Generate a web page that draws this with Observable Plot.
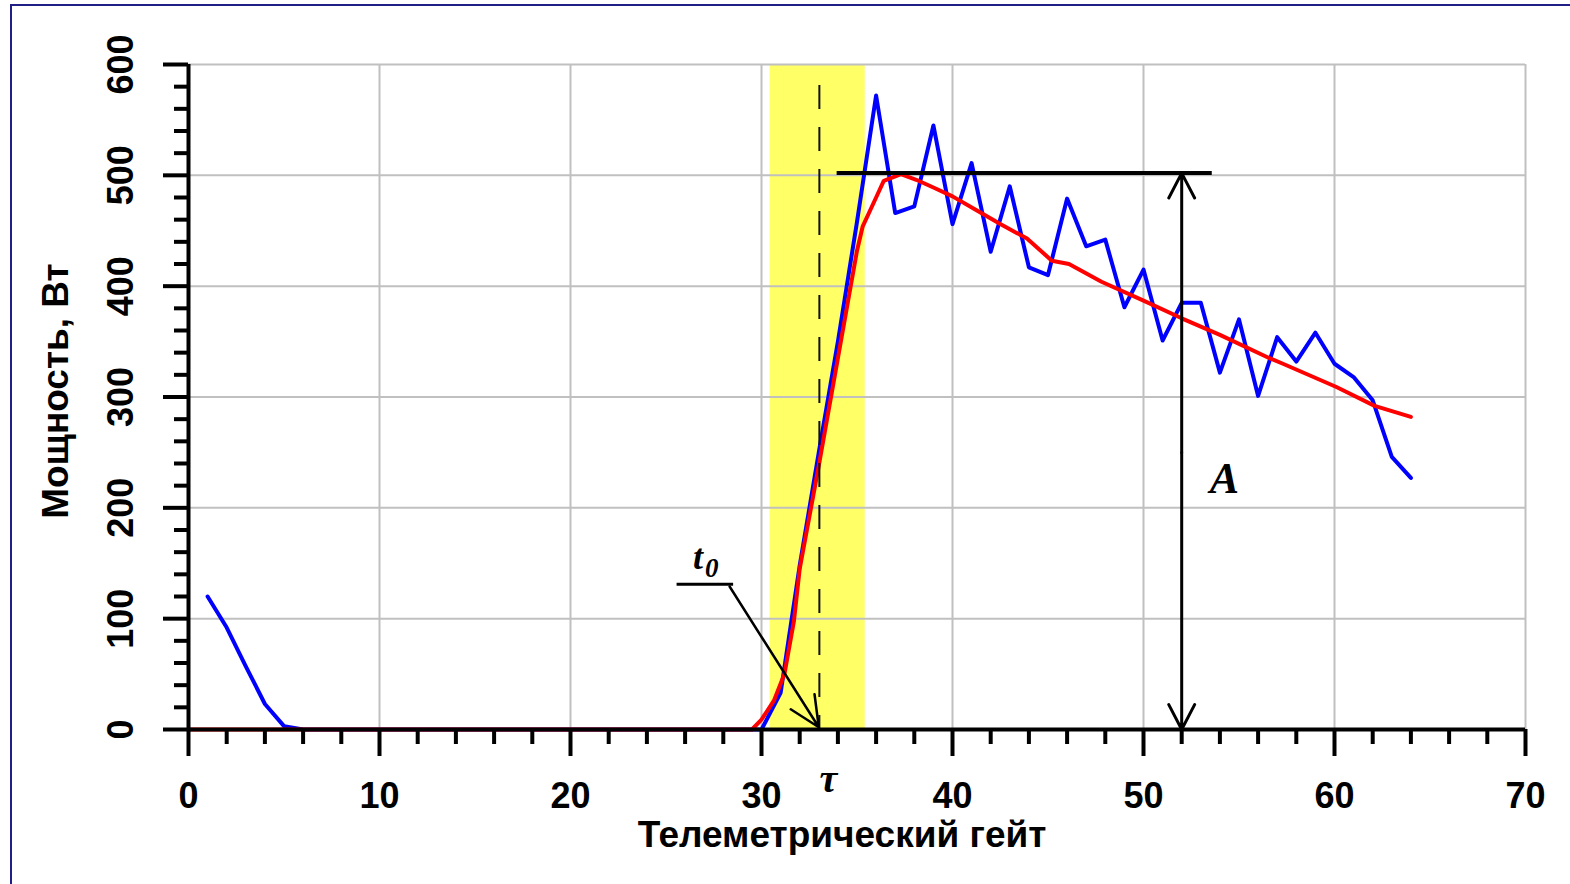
<!DOCTYPE html>
<html><head><meta charset="utf-8">
<script src="https://cdn.jsdelivr.net/npm/d3@7"></script>
<script src="https://cdn.jsdelivr.net/npm/@observablehq/plot@0.6"></script>
<style>
html,body{margin:0;padding:0;background:#fff;}
#wrap{position:relative;width:1570px;height:884px;overflow:hidden;background:#fff;}
#border{position:absolute;left:10px;top:4px;width:1600px;height:900px;border-left:2px solid #1f1f87;border-top:2px solid #1f1f87;}
#chart{position:absolute;left:0;top:0;}
</style></head><body>
<div id="wrap"><div id="border"></div><div id="chart"></div></div>
<script>
// ---- data ----
const gates = d3.range(1, 65);
const bluePower = [120, 92, 57, 23, 3,
  0, 0, 0, 0, 0, 0, 0, 0, 0, 0, 0, 0, 0, 0, 0, 0, 0, 0, 0, 0, 0, 0, 0, 0, 0,
  33, 148, 250, 350, 458, 572, 466, 472, 545, 456, 511, 431, 490, 417, 410, 479, 436, 442,
  381, 415, 351, 385, 385, 322, 370, 301, 354, 332, 358, 330, 318, 297, 246, 227];
const redGate = [0, 29.5, 30, 30.65, 31.2, 31.7, 32, 33, 34, 35, 35.3, 36, 36.4, 37.3, 38.1, 39, 40, 41.1, 42.5, 43.9, 45.2, 46.1, 47.8, 50, 52, 54, 56.6, 57.3, 60.1, 62.1, 64];
const redPower = [0, 0, 9, 26, 50, 98, 145, 238, 335, 432, 454, 480, 495, 501, 496, 489, 481, 470, 456, 443, 423, 420, 404, 387, 371, 356, 335, 330, 309, 292, 282];
const xMajor = [0, 10, 20, 30, 40, 50, 60, 70];
const xMinor = d3.range(0, 71, 2).filter(d => d % 10 !== 0);
const yMajor = [0, 100, 200, 300, 400, 500, 600];
const yMinor = d3.range(0, 601, 20).filter(d => d % 100 !== 0);
const xTitle = "Телеметрический гейт";
const yTitle = "Мощность, Вт";
// annotation values (in data units)
const band = [{start: 30.45, end: 35.43}];
const tau = 33.03, tauTop = 581;
const ampLevel = 502, ampFrom = 33.96, ampTo = 53.6, ampGate = 52.0, ampMid = 250;
const t0Line = {x1: 25.58, x2: 28.54, y: 131};
const t0Arrow = [{x1: 28.33, y1: 129, x2: 33.0, y2: 2}];

const blue = gates.map((g, i) => ({g, p: bluePower[i]}));
const red = redGate.map((g, i) => ({g, p: redPower[i]}));
const serif = "'Liberation Serif', 'Times New Roman', serif";

const chart = Plot.plot({
  width: 1570, height: 884,
  marginLeft: 188, marginRight: 45, marginTop: 64, marginBottom: 155,
  x: {domain: [0, 70], axis: null},
  y: {domain: [0, 600], axis: null},
  style: {fontFamily: "'Liberation Sans', Arial, sans-serif", color: "#000", background: "transparent", overflow: "visible"},
  marks: [
    Plot.rect(band, {x1: "start", x2: "end", fill: "#ffff66"}),
    Plot.gridX({ticks: xMajor, stroke: "#c0c0c0", strokeOpacity: 1, strokeWidth: 2}),
    Plot.gridY({ticks: yMajor, stroke: "#c0c0c0", strokeOpacity: 1, strokeWidth: 2}),
    Plot.line(blue, {x: "g", y: "p", stroke: "#0000ff", strokeWidth: 4}),
    Plot.line(red, {x: "g", y: "p", stroke: "#ff0000", strokeWidth: 4}),
    Plot.ruleX([tau], {y1: tauTop, y2: 0, stroke: "#111", strokeWidth: 2, strokeDasharray: "24,18"}),
    // axes
    Plot.axisX({ticks: xMajor, tickSize: 27, tickFormat: () => "", strokeWidth: 4, label: null}),
    Plot.axisX({ticks: xMinor, tickSize: 15, tickFormat: () => "", strokeWidth: 4, label: null}),
    Plot.axisY({ticks: yMajor, tickSize: 25, tickFormat: () => "", strokeWidth: 4, label: null}),
    Plot.axisY({ticks: yMinor, tickSize: 14, tickFormat: () => "", strokeWidth: 4, label: null}),
    Plot.ruleX([0], {strokeWidth: 4}),
    Plot.ruleY([0], {strokeWidth: 4}),
    Plot.text(xMajor, {x: d => d, text: d => String(d), frameAnchor: "bottom", textAnchor: "middle", lineAnchor: "middle", dy: 67, fontSize: 36, fontWeight: "bold"}),
    Plot.text(yMajor, {y: d => d, text: d => String(d), frameAnchor: "left", textAnchor: "middle", lineAnchor: "middle", dx: -67, rotate: -90, fontSize: 36, fontWeight: "bold"}),
    Plot.text([xTitle], {frameAnchor: "bottom", textAnchor: "middle", lineAnchor: "middle", dy: 106, dx: -15, fontSize: 37, fontWeight: "bold"}),
    Plot.text([yTitle], {frameAnchor: "left", textAnchor: "middle", lineAnchor: "middle", dx: -132, dy: -6, rotate: -90, fontSize: 37, fontWeight: "bold"}),
    // amplitude annotation
    Plot.ruleY([ampLevel], {x1: ampFrom, x2: ampTo, strokeWidth: 4, stroke: "#000"}),
    Plot.arrow([{y1: ampMid, y2: ampLevel}, {y1: ampMid, y2: 0}], {x1: ampGate, x2: ampGate, y1: "y1", y2: "y2", stroke: "#000", strokeWidth: 3, headLength: 14, headAngle: 55}),
    Plot.text(["A"], {x: 54.24, y: 226, fontSize: 44, fontWeight: "bold", fontStyle: "italic", fontFamily: serif}),
    // t0 annotation
    Plot.ruleY([t0Line], {y: "y", x1: "x1", x2: "x2", strokeWidth: 3, stroke: "#000"}),
    Plot.arrow(t0Arrow, {x1: "x1", y1: "y1", x2: "x2", y2: "y2", stroke: "#000", strokeWidth: 2.5, headLength: 20, headAngle: 50}),
    Plot.text(["t"], {x: 26.67, y: 155, fontSize: 36, fontWeight: "bold", fontStyle: "italic", fontFamily: serif}),
    Plot.text(["0"], {x: 27.4, y: 145, fontSize: 27, fontWeight: "bold", fontStyle: "italic", fontFamily: serif}),
    Plot.text(["τ"], {x: 33.5, frameAnchor: "bottom", textAnchor: "middle", lineAnchor: "middle", dy: 50, fontSize: 40, fontWeight: "bold", fontStyle: "italic", fontFamily: serif})
  ]
});
document.getElementById("chart").appendChild(chart);
</script>
</body></html>
